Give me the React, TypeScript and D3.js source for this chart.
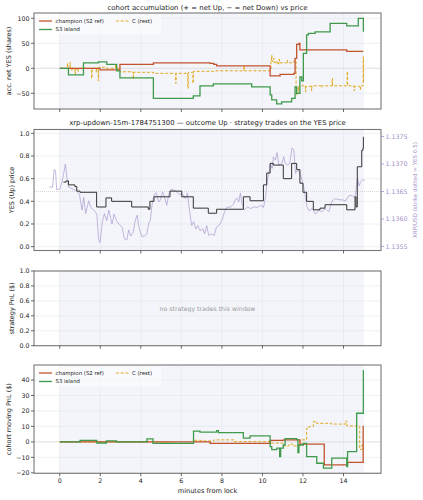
import React from 'react';
import * as d3 from 'd3';

// ---- data ----
type Pt = [number, number];

const champAcc: Pt[] = [
  [0, 0], [1.99, -3], [2.97, 8], [4.62, 11], [7.42, 10], [7.6, 8], [7.74, 5],
  [10.38, -15], [10.87, -12], [11.55, -10], [11.61, 20], [11.69, 48], [11.8, 50],
  [11.85, 37], [11.94, 37], [14.16, 34], [14.98, 34],
];

const islandAcc: Pt[] = [
  [0, 0], [0.43, -13], [1.17, 11], [1.91, 13], [2.32, 8], [2.81, -5], [2.97, -19],
  [4.62, -60], [6.59, -55], [6.92, -35], [7.58, -31], [9.47, -37], [10.38, -53],
  [10.46, -63], [10.7, -71], [10.95, -67], [11.44, -60], [11.61, -37], [11.69, -50],
  [11.85, -17], [11.94, -25], [12.02, 30], [12.18, 67], [12.27, 70], [12.6, 73],
  [13.34, 90], [14.16, 85], [14.65, 85], [14.73, 100], [14.95, 100], [14.98, 73],
];

const restAcc: Pt[] = [
  [0, 0], [0.35, 0], [0.38, 10], [0.4, 0], [0.5, 12], [0.52, 1], [0.6, -5], [0.62, 0],
  [0.75, -12], [0.77, -2], [0.9, -6], [0.92, 0], [1.55, 0], [1.57, -20], [1.59, 0],
  [1.8, -8], [1.82, 0], [1.9, -25], [1.92, 2], [2.3, 0], [2.75, 8], [2.77, 0],
  [2.97, -7], [3.6, -7], [3.62, -22], [3.64, -8], [4.62, -10], [5.7, -10], [5.72, -30],
  [5.74, -10], [6.3, -10], [6.32, -40], [6.34, -8], [6.55, -8], [6.57, -30], [6.59, -6],
  [7.2, -6], [7.6, -5], [9.06, -5], [9.08, 5], [9.1, -5], [10.38, -5], [10.42, 16],
  [10.45, 26], [10.47, 14], [10.55, 20], [10.57, 12], [10.7, 14], [10.72, 8], [10.8, 12],
  [10.82, 18], [10.84, 11], [11.2, 11], [11.22, 16], [11.24, 11], [11.55, 15],
  [11.66, -40], [11.68, -53], [11.7, -38], [11.78, -48], [11.8, -36], [11.9, -35],
  [12.1, -35], [12.12, -47], [12.14, -36], [12.4, -36], [12.42, -45], [12.44, -35],
  [12.9, -35], [12.92, -38], [12.94, -35], [13.42, -35], [13.44, -20], [13.46, -35],
  [14.16, -35], [14.18, -6], [14.2, -35], [14.5, -35], [14.52, -45], [14.54, -36],
  [14.8, -38], [14.82, -42], [14.84, -35], [14.95, -35], [14.97, 23], [14.99, -27],
  [15.0, -27],
];

const yesPrice: Pt[] = [
  [0.18, 0.57], [0.31, 0.58], [0.43, 0.545], [0.75, 0.53], [0.84, 0.49], [1.0, 0.48],
  [1.82, 0.35], [2.28, 0.43], [2.56, 0.4], [3.55, 0.35], [4.37, 0.33], [4.45, 0.4],
  [4.65, 0.44], [5.44, 0.49], [6.02, 0.44], [6.59, 0.34], [7.33, 0.295], [7.74, 0.33],
  [9.06, 0.44], [9.39, 0.405], [10.05, 0.545], [10.21, 0.65], [10.38, 0.735],
  [10.54, 0.72], [11.03, 0.6], [11.44, 0.735], [11.69, 0.68], [11.85, 0.56],
  [12.0, 0.48], [12.18, 0.4], [12.51, 0.325], [12.84, 0.34], [13.09, 0.37],
  [14.16, 0.325], [14.57, 0.44], [14.62, 0.35], [14.68, 0.705], [14.9, 0.85],
  [14.96, 0.87], [14.98, 0.97],
];

const xrpPrice: Pt[] = [
  [-0.51, 1.13658], [-0.35, 1.13658], [-0.28, 1.1369], [-0.21, 1.13688], [-0.15, 1.13653],
  [0.02, 1.13655], [0.15, 1.13674], [0.28, 1.137], [0.35, 1.13677], [0.44, 1.13658],
  [0.61, 1.13655], [0.81, 1.13652], [0.97, 1.13645], [1.1, 1.13616], [1.18, 1.13639],
  [1.28, 1.1361], [1.43, 1.13633], [1.53, 1.13621], [1.69, 1.13616], [1.83, 1.13609],
  [1.92, 1.13562], [1.99, 1.13557], [2.09, 1.13592], [2.2, 1.1361], [2.32, 1.13597],
  [2.42, 1.13616], [2.58, 1.13591], [2.68, 1.13609], [2.8, 1.13597], [2.91, 1.13591],
  [3.08, 1.13585], [3.19, 1.13564], [3.31, 1.13562], [3.4, 1.1358], [3.5, 1.13569],
  [3.62, 1.13576], [3.73, 1.13598], [3.82, 1.13607], [3.9, 1.13586], [4.05, 1.13568],
  [4.16, 1.13569], [4.29, 1.13572], [4.39, 1.13592], [4.47, 1.13598], [4.56, 1.13627],
  [4.65, 1.13643], [4.75, 1.13648], [4.88, 1.13631], [4.97, 1.13635], [5.07, 1.13649],
  [5.15, 1.13642], [5.28, 1.13625], [5.38, 1.13645], [5.48, 1.13653], [5.58, 1.13654],
  [5.74, 1.1365], [5.9, 1.13645], [6.07, 1.13645], [6.2, 1.13637], [6.3, 1.13647],
  [6.4, 1.13616], [6.51, 1.13588], [6.61, 1.13595], [6.71, 1.13582], [6.81, 1.13588],
  [6.92, 1.13579], [7.06, 1.13582], [7.15, 1.13573], [7.25, 1.13588], [7.35, 1.1357],
  [7.48, 1.13573], [7.62, 1.1357], [7.73, 1.13585], [7.85, 1.13588], [8.01, 1.13598],
  [8.13, 1.13613], [8.26, 1.13622], [8.4, 1.13621], [8.57, 1.13627], [8.67, 1.13636],
  [8.75, 1.13638], [8.83, 1.13631], [8.91, 1.13647], [9.0, 1.13627], [9.1, 1.13616],
  [9.26, 1.13622], [9.42, 1.13619], [9.59, 1.13622], [9.75, 1.13621], [9.92, 1.13625],
  [10.05, 1.13621], [10.15, 1.13639], [10.23, 1.13667], [10.31, 1.13682], [10.39, 1.137],
  [10.48, 1.13692], [10.54, 1.13713], [10.64, 1.13707], [10.72, 1.13721], [10.81, 1.13698],
  [10.97, 1.13702], [11.05, 1.13713], [11.13, 1.13701], [11.25, 1.13698], [11.35, 1.13701],
  [11.46, 1.13729], [11.55, 1.13725], [11.63, 1.13683], [11.73, 1.13689], [11.86, 1.13683],
  [11.96, 1.1367], [12.04, 1.13658], [12.12, 1.13639], [12.2, 1.13622], [12.3, 1.13615],
  [12.45, 1.13619], [12.62, 1.13609], [12.78, 1.13616], [12.94, 1.13613], [13.11, 1.13619],
  [13.27, 1.13613], [13.44, 1.13633], [13.6, 1.13637], [13.77, 1.13635], [13.93, 1.13635],
  [14.1, 1.13633], [14.26, 1.13642], [14.42, 1.13643], [14.52, 1.13639], [14.6, 1.13647],
  [14.69, 1.13674], [14.77, 1.1366], [14.85, 1.13668], [14.95, 1.13671], [15.05, 1.1367],
];

const champPnl: Pt[] = [
  [0, 0], [6.9, 0], [7.42, -1], [10.38, 1], [11.03, 1.3], [11.85, -1.5], [13.05, -14.8],
  [14.2, -13.3], [14.97, 10.5],
];

const islandPnl: Pt[] = [
  [0, 0], [1.0, 1], [1.83, -0.7], [2.3, 0.6], [2.8, 0], [4.3, 2], [4.6, -1], [6.6, 7],
  [6.92, 6.3], [7.74, 7.3], [7.83, 6], [9.06, 2.4], [9.39, 3.9], [10.38, -3], [10.46, -5],
  [10.71, -4], [10.85, -9.5], [10.9, -4], [11.03, -2], [11.12, 2.1], [11.69, 1.5],
  [11.75, -7], [11.8, -2], [12.02, -1], [12.18, -9.5], [12.68, -13.8], [13.01, -17],
  [13.42, -10.5], [14.14, -10.5], [14.16, -16], [14.2, -6.3], [14.65, 18.5], [14.97, 18.5],
  [14.98, 46.5],
];

const restPnl: Pt[] = [
  [0, 0], [5.2, -0.5], [5.5, -1], [6.6, 1], [7.0, 0.6], [7.6, 1.3], [8.6, 0.2],
  [10.38, -0.8], [11.03, -2.6], [11.3, -1.5], [11.5, -2.6], [11.85, 1.3], [12.18, 8.8],
  [12.3, 9.9], [12.51, 13.1], [12.68, 12], [13.4, 11.5], [14.1, 13.5], [14.16, 10.3],
  [14.8, -5], [14.9, -2], [14.98, -6],
];

const minuteTicks = [0, 2, 4, 6, 8, 10, 12, 14];
const accTicks = [-50, 0, 50, 100];
const priceTicks = [0, 0.2, 0.4, 0.6, 0.8, 1.0];
const xrpTicks = [1.1355, 1.136, 1.1365, 1.137, 1.1375];
const stratTicks = [0, 0.2, 0.4, 0.6, 0.8, 1.0];
const pnlTicks = [-20, -10, 0, 10, 20, 30, 40];
const strike = 1.1365;

// ---- styling ----
const FONT = 'DejaVu Sans, sans-serif';
const RED = '#c2532d';
const GREEN = '#3f9a4b';
const GOLD = '#e2a91f';
const PURPLE = '#a48fcb';
const L = 34;
const R = 381;

const x = d3.scaleLinear().domain([-1.27, 15.85]).range([L, R]);
const minus = (s: string) => s.replace('-', '\u2212');

interface PanelProps {
  top: number;
  bottom: number;
  y: d3.ScaleLinear<number, number>;
  yTicks: number[];
  fmt: (v: number) => string;
  ylabel: string;
  labelX: number;
  showX?: boolean;
  children?: React.ReactNode;
}

const Panel: React.FC<PanelProps> = ({ top, bottom, y, yTicks, fmt, ylabel, labelX, showX, children }) => {
  const mid = (top + bottom) / 2;
  const cid = `clip${Math.round(top)}`;
  return (
    <g>
      <defs>
        <clipPath id={cid}>
          <rect x={L} y={top} width={R - L} height={bottom - top} />
        </clipPath>
      </defs>
      <rect x={x(0)} y={top} width={x(15) - x(0)} height={bottom - top} fill="#f3f5fa" />
      {minuteTicks.map(t => (
        <line key={'gx' + t} x1={x(t)} x2={x(t)} y1={top} y2={bottom} stroke="#e3e6ec" strokeWidth={0.6} />
      ))}
      {yTicks.map(t => (
        <line key={'gy' + t} x1={L} x2={R} y1={y(t)} y2={y(t)} stroke="#e3e6ec" strokeWidth={0.6} />
      ))}
      <g clipPath={`url(#${cid})`}>{children}</g>
      <rect x={L} y={top} width={R - L} height={bottom - top} fill="none" stroke="#777" strokeWidth={1.1} />
      {yTicks.map(t => (
        <g key={'ty' + t}>
          <line x1={L - 3} x2={L} y1={y(t)} y2={y(t)} stroke="#444" strokeWidth={0.8} />
          <text x={L - 4.5} y={y(t)} dy="0.35em" textAnchor="end" fontSize={6.3} fill="#222">{fmt(t)}</text>
        </g>
      ))}
      {minuteTicks.map(t => (
        <g key={'tx' + t}>
          <line x1={x(t)} x2={x(t)} y1={bottom} y2={bottom + 3} stroke="#444" strokeWidth={0.8} />
          {showX && (
            <text x={x(t)} y={bottom + 10} textAnchor="middle" fontSize={6.3} fill="#222">{t}</text>
          )}
        </g>
      ))}
      <text transform={`translate(${labelX},${mid}) rotate(-90)`} textAnchor="middle" dy="0.35em" fontSize={6.5} fill="#222">
        {ylabel}
      </text>
    </g>
  );
};

const Legend: React.FC<{ top: number }> = ({ top }) => (
  <g fontSize={5.4} fill="#222">
    <rect x={36} y={top} width={125} height={20} rx={2} fill="white" fillOpacity={0.5} />
    <line x1={39} x2={52} y1={top + 6.5} y2={top + 6.5} stroke={RED} strokeWidth={1.3} />
    <text x={55.5} y={top + 6.5} dy="0.35em">champion (S2 ref)</text>
    <line x1={116} x2={129} y1={top + 6.5} y2={top + 6.5} stroke={GOLD} strokeWidth={1} strokeDasharray="3,1.8" />
    <text x={132} y={top + 6.5} dy="0.35em">C (rest)</text>
    <line x1={39} x2={52} y1={top + 15} y2={top + 15} stroke={GREEN} strokeWidth={1.3} />
    <text x={55.5} y={top + 15} dy="0.35em">S3 island</text>
  </g>
);

export default function App() {
  const yAcc = d3.scaleLinear().domain([-81.4, 110.6]).range([109, 13]);
  const yPrice = d3.scaleLinear().domain([-0.034, 1.034]).range([250.5, 129.5]);
  const yXrp = d3.scaleLinear().domain([1.135427, 1.137627]).range([250.5, 129.5]);
  const yStrat = d3.scaleLinear().domain([0, 1]).range([345.7, 271]);
  const yPnl = d3.scaleLinear().domain([-20.3, 49.7]).range([473.3, 365]);

  const step = (ys: d3.ScaleLinear<number, number>) =>
    d3.line<Pt>().x(d => x(d[0])).y(d => ys(d[1])).curve(d3.curveStepAfter);
  const smooth = (ys: d3.ScaleLinear<number, number>) =>
    d3.line<Pt>().x(d => x(d[0])).y(d => ys(d[1]));

  const midX = (L + R) / 2;

  return (
    <svg width={423} height={500} style={{ position: 'absolute', left: 0, top: 0 }} fontFamily={FONT}>
      <rect width={423} height={500} fill="white" />

      {/* panel 1: cohort accumulation */}
      <text x={midX} y={9.5} textAnchor="middle" fontSize={6.9} fill="#222">
        cohort accumulation (+ = net Up, − = net Down) vs price
      </text>
      <Panel top={13} bottom={109} y={yAcc} yTicks={accTicks} fmt={v => minus(String(v))} ylabel="acc. net YES (shares)" labelX={9}>
        <line x1={L} x2={R} y1={yAcc(0)} y2={yAcc(0)} stroke="#d8d8d8" strokeWidth={0.6} />
        <path d={step(yAcc)(restAcc) || ''} fill="none" stroke={GOLD} strokeWidth={1} strokeDasharray="3,1.8" />
        <path d={step(yAcc)(champAcc) || ''} fill="none" stroke={RED} strokeWidth={1.3} />
        <path d={step(yAcc)(islandAcc) || ''} fill="none" stroke={GREEN} strokeWidth={1.3} />
      </Panel>
      <Legend top={14.5} />

      {/* panel 2: YES price */}
      <text x={midX} y={124.5} textAnchor="middle" fontSize={6.9} fill="#222">
        xrp-updown-15m-1784751300 — outcome Up · strategy trades on the YES price
      </text>
      <Panel top={129.5} bottom={250.5} y={yPrice} yTicks={priceTicks} fmt={v => v.toFixed(1)} ylabel="YES (Up) price" labelX={11.5}>
        <line x1={L} x2={R} y1={yXrp(strike)} y2={yXrp(strike)} stroke="#c4c4c4" strokeWidth={0.7} strokeDasharray="1,1" />
        <path d={smooth(yXrp)(xrpPrice) || ''} fill="none" stroke={PURPLE} strokeOpacity={0.7} strokeWidth={0.9} />
        <path d={step(yPrice)(yesPrice) || ''} fill="none" stroke="#333" strokeWidth={1} />
      </Panel>
      {xrpTicks.map(t => (
        <g key={'xr' + t}>
          <line x1={R} x2={R + 3} y1={yXrp(t)} y2={yXrp(t)} stroke={PURPLE} strokeWidth={0.8} />
          <text x={R + 4.5} y={yXrp(t)} dy="0.35em" fontSize={6.3} fill={PURPLE}>{t.toFixed(4)}</text>
        </g>
      ))}
      <text transform={`translate(415,190) rotate(-90)`} textAnchor="middle" dy="0.35em" fontSize={5.6} fill={PURPLE}>
        XRP/USD (strike dotted = YES 0.5)
      </text>

      {/* panel 3: strategy PnL */}
      <Panel top={271} bottom={345.7} y={yStrat} yTicks={stratTicks} fmt={v => v.toFixed(1)} ylabel="strategy PnL ($)" labelX={11.5}>
        <text x={midX} y={yStrat(0.5)} dy="0.35em" textAnchor="middle" fontSize={6.2} fill="#999">
          no strategy trades this window
        </text>
      </Panel>

      {/* panel 4: cohort moving PnL */}
      <Panel top={365} bottom={473.3} y={yPnl} yTicks={pnlTicks} fmt={v => minus(String(v))} ylabel="cohort moving PnL ($)" labelX={9} showX>
        <line x1={L} x2={R} y1={yPnl(0)} y2={yPnl(0)} stroke="#d8d8d8" strokeWidth={0.6} />
        <path d={step(yPnl)(restPnl) || ''} fill="none" stroke={GOLD} strokeWidth={1} strokeDasharray="3,1.8" />
        <path d={step(yPnl)(champPnl) || ''} fill="none" stroke={RED} strokeWidth={1.3} />
        <path d={step(yPnl)(islandPnl) || ''} fill="none" stroke={GREEN} strokeWidth={1.3} />
      </Panel>
      <Legend top={366.5} />
      <text x={midX} y={493} textAnchor="middle" fontSize={6.6} fill="#222">minutes from lock</text>
    </svg>
  );
}
